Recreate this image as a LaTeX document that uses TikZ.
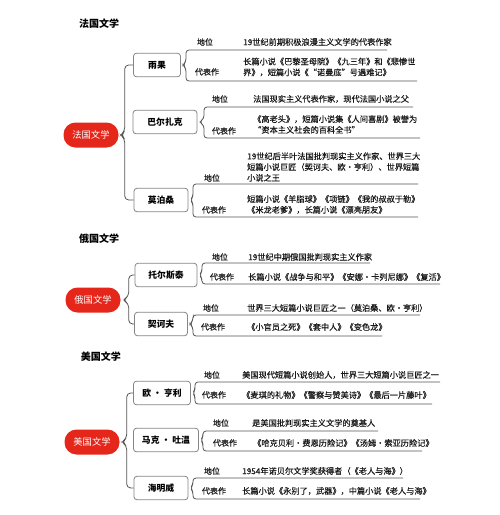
\documentclass[tikz,border=0pt]{standalone}
\usepackage{fontspec}
\setmainfont{Noto Sans CJK SC}
\newfontfamily\semib[FakeBold=0.45]{Noto Sans CJK SC}
\usetikzlibrary{calc}
\definecolor{myred}{HTML}{E5261B}
\definecolor{boxgray}{HTML}{858585}
\definecolor{linegray}{HTML}{555555}
\definecolor{txtcol}{HTML}{1A1A1A}
\tikzset{
 cat/.style={fill=myred, text=white, rounded corners=12pt, minimum width=55pt, minimum height=25pt, inner sep=0pt, font=\fontsize{9.3}{10}\selectfont},
 author/.style={draw=boxgray, line width=0.8pt, fill=white, rounded corners=3pt, minimum height=23.5pt, inner sep=0pt, font=\bfseries\fontsize{8.8}{10}\selectfont},
 head/.style={font=\bfseries\fontsize{10}{12}\selectfont, inner sep=0pt},
 lab/.style={font=\semib\fontsize{8}{10}\selectfont, inner sep=0pt, text=txtcol},
 txt/.style={font=\semib\fontsize{8.2}{10.8}\selectfont, inner sep=0pt, anchor=west, align=left, text=txtcol},
 conn/.style={draw=linegray, line width=0.8pt, rounded corners=3pt},
 bigconn/.style={draw=linegray, line width=0.8pt, rounded corners=4pt},
}
% #1 author node, #2 x of brace, #3 top line y, #4 bottom line y, #5 top end x, #6 bottom end x
\newcommand\sbrace[6]{%
 \coordinate (#1-t) at (#5,#3);
 \coordinate (#1-b) at (#6,#4);
 \coordinate (#1-m) at (#2,0 |- #1.east);
 \draw[conn] (#1-t) -- (#2,#3) -- ($(#1-m)+(0,-3.5)$) -- ($(#1.east)+(2,0)$) -- ($(#1-m)+(0,3.5)$) -- (#2,#4) -- (#1-b);
}
% #1 top node, #2 category node, #3 bottom node, #4 x offset
\newcommand\bbrace[4]{%
 \coordinate (#2-m) at ($(#2.east)+(#4,0)$);
 \draw[bigconn] (#1.west) -| ($(#2-m)+(0,-3.5)$) -- ($(#2.east)+(2,0)$) -- ($(#2-m)+(0,3.5)$) |- (#3.west);
}
\begin{document}
\begin{tikzpicture}[x=1pt,y=-1pt]
\useasboundingbox (0,0) rectangle (500,515);
\fill[white] (0,0) rectangle (500,515);

% ---------------- France ----------------
\node[head] (hfr) at (99,24) {法国文学};
\node[cat] (fr) at (91,135) {法国文学};
\node[author, minimum width=47pt] (yg) at (157,65) {雨果};
\node[author, minimum width=64pt] (bez) at (165,122) {巴尔扎克};
\node[author, minimum width=54pt] (mps) at (161,200) {莫泊桑};
\bbrace{yg}{fr}{mps}{6}

\sbrace{yg}{186}{50}{81}{387}{417}
\node[lab] (yg-l1) at (205,42) {地位};
\node[txt] (yg-x1) at (243,42) {19世纪前期积极浪漫主义文学的代表作家};
\node[lab] (yg-l2) at (207,72) {代表作};
\node[txt] (yg-x2) at (243,67) {长篇小说《巴黎圣母院》《九三年》和《悲惨世\\界》，短篇小说《“诺曼底”号遇难记》};

\sbrace{bez}{204}{107}{138}{413}{420}
\node[lab] (bez-l1) at (220,99) {地位};
\node[txt] (bez-x1) at (253,99) {法国现实主义代表作家，现代法国小说之父};
\node[lab] (bez-l2) at (224,131) {代表作};
\node[txt] (bez-x2) at (253,124.5) {《高老头》，短篇小说集《人间喜剧》被誉为\\“资本主义社会的百科全书”};

\sbrace{mps}{193}{184}{217}{418}{418}
\node[lab] (mps-l1) at (212,178) {地位};
\node[txt] (mps-x1) at (247,167) {19世纪后半叶法国批判现实主义作家、世界三大\\短篇小说巨匠（契诃夫、欧·亨利）、世界短篇\\小说之王};
\node[lab] (mps-l2) at (214,210) {代表作};
\node[txt] (mps-x2) at (247,204.5) {短篇小说《羊脂球》《项链》《我的叔叔于勒》\\《米龙老爹》，长篇小说《漂亮朋友》};

% ---------------- Russia ----------------
\node[head] (hru) at (99,239) {俄国文学};
\node[cat] (ru) at (93,300) {俄国文学};
\node[author, minimum width=62pt] (tes) at (166,275) {托尔斯泰};
\node[author, minimum width=53pt] (qhf) at (161,324) {契诃夫};
\bbrace{tes}{ru}{qhf}{8}

\sbrace{tes}{202}{263}{284}{370}{440}
\node[lab] (tes-l1) at (220,257) {地位};
\node[txt] (tes-x1) at (248,257) {19世纪中期俄国批判现实主义作家};
\node[lab] (tes-l2) at (222,277) {代表作};
\node[txt] (tes-x2) at (248,277) {长篇小说《战争与和平》《安娜·卡列尼娜》《复活》};

\sbrace{qhf}{193}{315}{336}{420}{382}
\node[lab] (qhf-l1) at (211,308) {地位};
\node[txt] (qhf-x1) at (247,308) {世界三大短篇小说巨匠之一（莫泊桑、欧·亨利）};
\node[lab] (qhf-l2) at (213,327) {代表作};
\node[txt] (qhf-x2) at (247,327) {《小官员之死》《套中人》《变色龙》};

% ---------------- USA ----------------
\node[head] (hus) at (101,357) {美国文学};
\node[cat] (us) at (92,442) {美国文学};
\node[author, minimum width=57pt] (oh) at (162,393) {欧 · 亨利};
\node[author, minimum width=65pt] (mt) at (166,440) {马克 · 吐温};
\node[author, minimum width=54pt] (hmw) at (161,488) {海明威};
\bbrace{oh}{us}{hmw}{7}

\sbrace{oh}{195}{382}{404}{440}{432}
\node[lab] (oh-l1) at (212,375) {地位};
\node[txt] (oh-x1) at (242,375) {美国现代短篇小说创始人，世界三大短篇小说巨匠之一};
\node[lab] (oh-l2) at (214,395) {代表作};
\node[txt] (oh-x2) at (242,395) {《麦琪的礼物》《警察与赞美诗》《最后一片藤叶》};

\sbrace{mt}{203}{431}{451}{378}{422}
\node[lab] (mt-l1) at (221,423) {地位};
\node[txt] (mt-x1) at (252,423) {是美国批判现实主义文学的奠基人};
\node[lab] (mt-l2) at (225,443) {代表作};
\node[txt] (mt-x2) at (253,443) {《哈克贝利·费恩历险记》《汤姆·索亚历险记》};

\sbrace{hmw}{193}{478}{499}{403}{420}
\node[lab] (hmw-l1) at (212,471) {地位};
\node[txt] (hmw-x1) at (242,471) {1954年诺贝尔文学奖获得者（《老人与海》）};
\node[lab] (hmw-l2) at (214,491) {代表作};
\node[txt] (hmw-x2) at (242,491) {长篇小说《永别了，武器》，中篇小说《老人与海》};
\end{tikzpicture}
\end{document}
